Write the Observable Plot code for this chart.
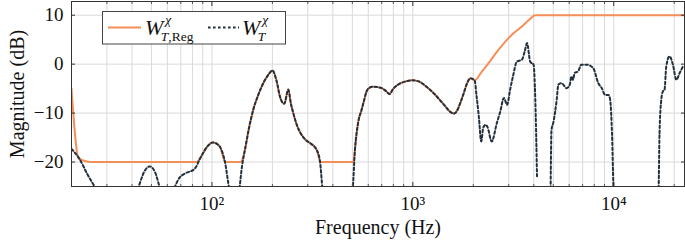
<!DOCTYPE html>
<html><head><meta charset="utf-8">
<script src="https://cdn.jsdelivr.net/npm/d3@7"></script>
<script src="https://cdn.jsdelivr.net/npm/@observablehq/plot@0.6"></script>
<style>body{margin:0;background:#fff}#chart{width:685px;height:240px}</style>
</head><body><div id="chart"></div>
<script>
// W_T^chi (black dashed) — frequency (Hz) and magnitude (dB); null = gap
const freqT = [20,22,24,27,35,43,46,49,52,55,60,65.5,69,73,82,88,95,101,106,110,116,122,130,137,141,146,153,160.6,170,180,190,200,210,218,229,240,247,254,265,279,295,307,332,345,355,420,502,515,534,556,567,588,610,635,700,740,765,800,868,930,1000,1080,1168,1260,1362,1450,1530,1602,1660,1720,1790,1862,1935,2030,2077,2130,2190,2240,2300,2350,2470,2620,2723,2840,2946,3050,3170,3290,3490,3600,3700,3840,3990,4070,4150,4400,4850,4900,5000,5200,5300,5500,5820,6040,6160,6270,6390,6640,6900,7310,7900,8380,8720,9060,9420,9600,9800,10000,13000,16700,16900,17240,17550,17900,18250,18950,19700,20500,21280,22100];
const magT = [-17.3,-19.5,-22.5,-26,-32,-25.2,-22,-20.9,-22,-25.2,-30,-25,-23.2,-22.4,-21.4,-19,-16.8,-16,-16.3,-17,-19.9,-25.5,-30,-25.5,-21,-17.5,-13,-9.3,-6.3,-3.9,-2.3,-1.3,-3.5,-6.6,-8.1,-5.2,-8,-10,-12.5,-14.4,-15.6,-16.1,-17.5,-19.9,-25.5,-40,-25.5,-17.5,-12,-9.3,-8,-5.6,-4.8,-4.6,-4.9,-5.6,-6.1,-5,-3.9,-3.5,-3.3,-3.6,-4.6,-5.8,-7.3,-8.6,-9.7,-10.1,-9.5,-8,-6,-3.9,-2.9,-3.3,-6.6,-10.7,-15.8,-13,-12.4,-12.8,-15.8,-12,-9.7,-6.9,-8.3,-5.2,-2,0.5,0.9,2.5,4.3,0.5,-0.1,-7.3,-22.9,null,-25.5,-13.4,-12,-7.3,-4.2,-3.9,-4.9,-4.2,-2.5,-3.2,-1.8,-1.5,-0.1,-0.1,-0.8,-3.9,-4.9,-6.3,-6.3,-7.3,-14,-26,-40,-26,-14.1,-7.3,-5.6,-5.2,-0.5,1.6,-0.1,-3.2,-1.8,-0.5];

// W_T,Reg^chi (orange)
const freqReg = [20,21.7,25,84,88,95,101,106,110,116,118,139,146,153,160.6,170,180,190,200,210,218,229,240,247,254,265,279,295,307,332,343,347,506,515,534,556,567,588,610,635,700,740,765,800,868,930,1000,1080,1168,1260,1362,1450,1530,1602,1660,1720,1790,1862,1935,2030,2200,2382,2620,2887,3170,3490,3780,4065,22500];
const magReg = [-5,-19.2,-20,-20,-19,-16.8,-16,-16.3,-17,-19.9,-20,-20,-17.5,-13,-9.3,-6.3,-3.9,-2.3,-1.3,-3.5,-6.6,-8.1,-5.2,-8,-10,-12.5,-14.4,-15.6,-16.1,-17.5,-19.5,-20,-20,-17.5,-12,-9.3,-8,-5.6,-4.8,-4.6,-4.9,-5.6,-6.1,-5,-3.9,-3.5,-3.3,-3.6,-4.6,-5.8,-7.3,-8.6,-9.7,-10.1,-9.5,-8,-6,-3.9,-2.9,-3.3,-1.6,0.2,2.5,4.6,6.3,7.7,9,10,10];

const xTicks = [100, 1000, 10000];
const xTickLabels = ["10²", "10³", "10⁴"];
const xMinor = [20,30,40,50,60,70,80,90,200,300,400,500,600,700,800,900,2000,3000,4000,5000,6000,7000,8000,9000,20000];
const yTicks = [-20, -10, 0, 10];

const tData = freqT.map((f, i) => ({f, m: magT[i]}));
const rData = freqReg.map((f, i) => ({f, m: magReg[i]}));

const orange = "#f68f57";
const dark = "#22303d";
const gridC = "#dadada";
const font = "'Liberation Serif', 'Times New Roman', serif";
const dash = "2.6,2.4";

const fmtX = d => xTickLabels[xTicks.indexOf(d)];

const svg = Plot.plot({
  width: 685, height: 240,
  marginLeft: 71, marginRight: 1, marginTop: 1, marginBottom: 54,
  style: {fontFamily: font, fontSize: "19px", color: "#111", background: "#fff"},
  x: {type: "log", domain: [20, 22500]},
  y: {domain: [-25, 12.8]},
  marks: [
    Plot.gridX(xMinor.concat(xTicks), {stroke: gridC, strokeOpacity: 1, strokeWidth: 1}),
    Plot.gridY(yTicks, {stroke: gridC, strokeOpacity: 1, strokeWidth: 1}),
    Plot.line(rData, {x: "f", y: "m", stroke: orange, strokeWidth: 2, curve: "monotone-x", clip: true}),
    Plot.line(tData, {x: "f", y: "m", stroke: dark, strokeWidth: 2, strokeDasharray: dash, curve: "monotone-x", clip: true}),
    Plot.axisX(xTicks, {anchor: "bottom", tickSize: 0, tickPadding: 10, tickFormat: fmtX, fontSize: 19, label: null}),
    Plot.axisX({anchor: "bottom", ticks: [], tickSize: 0, label: "Frequency (Hz)", labelAnchor: "center", labelArrow: "none", labelOffset: 47, fontSize: 20}),
    Plot.axisX(xTicks, {anchor: "bottom", tickSize: -4, tickFormat: () => "", label: null, stroke: "#333"}),
    Plot.axisX(xTicks, {anchor: "top", tickSize: -4, tickFormat: () => "", label: null, stroke: "#333"}),
    Plot.axisX(xMinor, {anchor: "bottom", tickSize: -2, tickFormat: () => "", label: null, stroke: "#555"}),
    Plot.axisX(xMinor, {anchor: "top", tickSize: -2, tickFormat: () => "", label: null, stroke: "#555"}),
    Plot.axisY(yTicks, {anchor: "left", tickSize: 0, tickPadding: 8, fontSize: 19, label: null}),
    Plot.axisY({anchor: "left", ticks: [], tickSize: 0, label: "Magnitude (dB)", labelAnchor: "center", labelArrow: "none", labelOffset: 62, fontSize: 20}),
    Plot.axisY(yTicks, {anchor: "left", tickSize: -4, tickFormat: () => "", label: null, stroke: "#333"}),
    Plot.axisY(yTicks, {anchor: "right", tickSize: -4, tickFormat: () => "", label: null, stroke: "#333"}),
    Plot.frame({stroke: "#333", strokeWidth: 1})
  ]
});
document.getElementById("chart").appendChild(svg);

// Legend box (inside plot area, upper left)
const g = d3.select(svg).append("g").attr("font-family", font).attr("text-anchor", "start");
g.append("rect").attr("x", 102.5).attr("y", 11.5).attr("width", 183).attr("height", 32.5)
  .attr("fill", "#fff").attr("stroke", "#444").attr("stroke-width", 1);
g.append("line").attr("x1", 108).attr("x2", 141).attr("y1", 27.5).attr("y2", 27.5)
  .attr("stroke", orange).attr("stroke-width", 2);
g.append("line").attr("x1", 208).attr("x2", 239).attr("y1", 27.5).attr("y2", 27.5)
  .attr("stroke", dark).attr("stroke-width", 2).attr("stroke-dasharray", dash);
function entry(x, sub) {
  const t = g.append("text").attr("x", x).attr("y", 34.5).attr("fill", "#111")
    .attr("text-anchor", "start")
    .style("font-size", "22px").style("font-style", "italic");
  t.append("tspan").text("W");
  t.append("tspan").attr("dx", 2).attr("dy", -11).style("font-size", "13.5px").text("χ");
  const s = t.append("tspan").attr("dx", -10.5).attr("dy", 17).style("font-size", "13.5px");
  s.text("T");
  if (sub) t.append("tspan").style("font-size", "13.5px").style("font-style", "normal").text(sub);
}
entry(145, ",Reg");
entry(242, null);
</script>
</body></html>
